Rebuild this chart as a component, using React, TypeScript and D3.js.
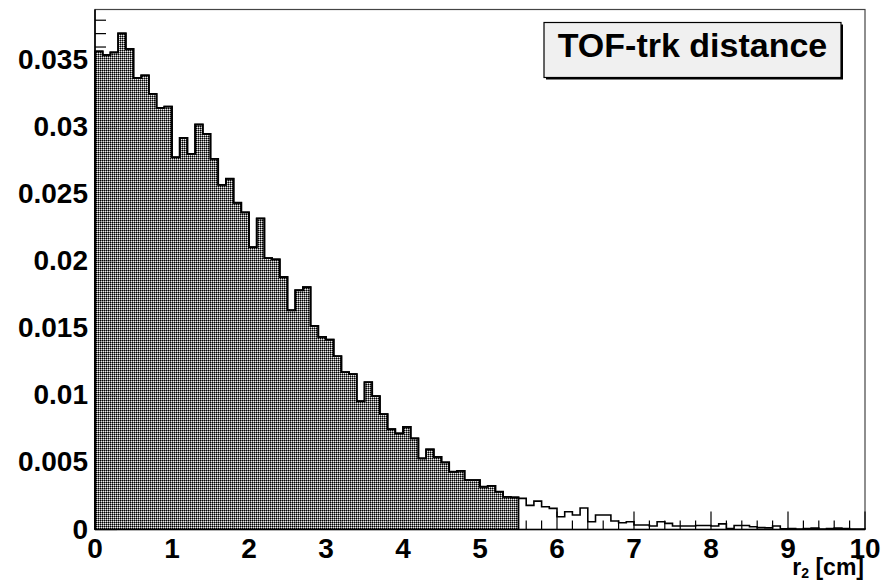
import React from "react";
import * as d3 from "d3";

const W = 887;
const H = 582;

// Histogram: 100 bins from 0 to 10 cm (bin width 0.1)
const binLow = 0;
const binHigh = 10;
const binValues = [
  0.03568, 0.03541, 0.0356, 0.03702, 0.03586, 0.0337, 0.03389, 0.0325, 0.03146, 0.03156,
  0.02778, 0.02922, 0.02803, 0.03022, 0.02952, 0.02766, 0.02572, 0.02617, 0.02438, 0.02366,
  0.02107, 0.02321, 0.02025, 0.02016, 0.01884, 0.01636, 0.01785, 0.01809, 0.01519, 0.01437,
  0.01417, 0.01293, 0.01174, 0.01159, 0.00958, 0.01099, 0.00995, 0.00861, 0.00749, 0.00717,
  0.00766, 0.0068, 0.00531, 0.00598, 0.00542, 0.00501, 0.00431, 0.00438, 0.00369, 0.00369,
  0.00319, 0.00326, 0.00282, 0.00244, 0.0024, 0.00232, 0.0018, 0.00212, 0.0017, 0.00158,
  0.00095, 0.00133, 0.00108, 0.0016, 0.00058, 0.00108, 0.00108, 0.00063, 0.0005, 0.00058,
  0.00034, 0.00034, 0.00026, 0.00058, 0.00046, 0.00026, 0.00026, 0.00026, 0.0003, 0.0003,
  0.00026, 0.00042, 0.00008, 0.0003, 0.0003, 0.0002, 0.00014, 0.00012, 0.00026, 0.00006,
  0.00008, 0.00004, 0.00008, 0.0001, 0.00004, 0.00008, 0.0001, 0.00008, 0.00004, 0.00004,
];
// the shaded part of the histogram ends at this x
const filledUpTo = 5.5;

const yMax = 0.0388;
const yMajorTicks = [0, 0.005, 0.01, 0.015, 0.02, 0.025, 0.03, 0.035];
const yTickLabels = ["0", "0.005", "0.01", "0.015", "0.02", "0.025", "0.03", "0.035"];
const xMajorTicks = [0, 1, 2, 3, 4, 5, 6, 7, 8, 9, 10];
const xTickLabels = ["0", "1", "2", "3", "4", "5", "6", "7", "8", "9", "10"];
const legendTitle = "TOF-trk distance";

const FONT = "'Liberation Sans', Arial, Helvetica, sans-serif";

export default function App() {
  const x = d3.scaleLinear().domain([binLow, binHigh]).range([95, 865]);
  const y = d3.scaleLinear().domain([0, yMax]).range([529.5, 9.5]);
  const binW = (binHigh - binLow) / binValues.length;

  type P = [number, number];
  const pts: P[] = [[binLow, 0]];
  binValues.forEach((v, i) => pts.push([binLow + i * binW, v]));
  pts.push([binHigh, binValues[binValues.length - 1]]);
  pts.push([binHigh, 0]);

  const line = d3
    .line<P>()
    .x((d) => x(d[0]))
    .y((d) => y(d[1]))
    .curve(d3.curveStepAfter);

  const nFilled = Math.round((filledUpTo - binLow) / binW);
  const fillPts: P[] = [];
  for (let i = 0; i < nFilled; i++) fillPts.push([binLow + i * binW, binValues[i]]);
  fillPts.push([filledUpTo, binValues[nFilled - 1]]);
  const area = d3
    .area<P>()
    .x((d) => x(d[0]))
    .y0(y(0))
    .y1((d) => y(d[1]))
    .curve(d3.curveStepAfter);
  const fillOutlinePts: P[] = [[binLow, 0], ...fillPts, [filledUpTo, 0]];

  // ticks
  const xMinor = d3.range(0, 50 + 1).map((k) => k * 0.2);
  const yMinor = d3.range(0, 39).map((k) => k * 0.001);

  const x0 = x(binLow);
  const yb = y(0);

  return (
    <svg
      width={W}
      height={H}
      viewBox={`0 0 ${W} ${H}`}
      style={{ position: "absolute", left: 0, top: 0, background: "#fff" }}
    >
      <defs>
        <pattern id="dots" width={2} height={2} patternUnits="userSpaceOnUse">
          <rect x={0} y={0} width={1} height={1} fill="#000" />
          <rect x={1} y={0} width={1} height={1} fill="#707070" />
          <rect x={0} y={1} width={1} height={1} fill="#707070" />
          <rect x={1} y={1} width={1} height={1} fill="#e8e8e8" fillOpacity={0.85} />
        </pattern>
      </defs>
      <rect x={0} y={0} width={W} height={H} fill="#fff" />

      {/* frame */}
      <rect
        x={x0}
        y={y(yMax)}
        width={x(binHigh) - x0}
        height={yb - y(yMax)}
        fill="none"
        stroke="#444"
        strokeWidth={1.2}
      />

      {/* ticks (drawn beneath the shading) */}
      <g stroke="#000" strokeWidth={1.2}>
        {xMinor.map((v, i) => {
          const major = Math.abs(v - Math.round(v)) < 1e-6;
          return (
            <line
              key={"xt" + i}
              x1={x(v)}
              x2={x(v)}
              y1={yb}
              y2={yb - (major ? 18 : 9)}
            />
          );
        })}
        {yMinor.map((v, i) => {
          const major = i % 5 === 0;
          return (
            <line
              key={"yt" + i}
              x1={x0}
              x2={x0 + (major ? 22 : 11)}
              y1={y(v)}
              y2={y(v)}
            />
          );
        })}
      </g>

      {/* shaded part */}
      <path d={area(fillPts) || ""} fill="url(#dots)" />
      <path d={line(fillOutlinePts) || ""} fill="none" stroke="#000" strokeWidth={1.8} />
      {/* full outline */}
      <path d={line(pts) || ""} fill="none" stroke="#000" strokeWidth={1.6} />

      {/* axes */}
      <line x1={x0} x2={x0} y1={y(yMax)} y2={yb} stroke="#000" strokeWidth={1.6} />
      <line x1={x0} x2={x(binHigh)} y1={yb} y2={yb} stroke="#000" strokeWidth={1.6} />

      {/* tick labels */}
      <g fontFamily={FONT} fontWeight="bold" fontSize={28} fill="#000">
        {yMajorTicks.map((v, i) => (
          <text key={"yl" + i} x={88} y={y(v) + 9} textAnchor="end">
            {yTickLabels[i]}
          </text>
        ))}
        {xMajorTicks.map((v, i) => (
          <text key={"xl" + i} x={x(v)} y={558} textAnchor="middle">
            {xTickLabels[i]}
          </text>
        ))}
      </g>

      {/* axis title */}
      <text x={864} y={575} textAnchor="end" fontFamily={FONT} fontWeight="bold" fontSize={23}>
        r
        <tspan fontSize={14} dy={3}>2</tspan>
        <tspan dy={-3}> [cm]</tspan>
      </text>

      {/* title box */}
      <g>
        <rect x={546} y={24.5} width={297} height={55} fill="#000" />
        <rect x={544} y={22.5} width={297} height={55} fill="#f0f0f0" stroke="#000" strokeWidth={1.2} />
        <text
          x={544 + 297 / 2}
          y={57}
          textAnchor="middle"
          fontFamily={FONT}
          fontWeight="bold"
          fontSize={34}
        >
          {legendTitle}
        </text>
      </g>
    </svg>
  );
}
